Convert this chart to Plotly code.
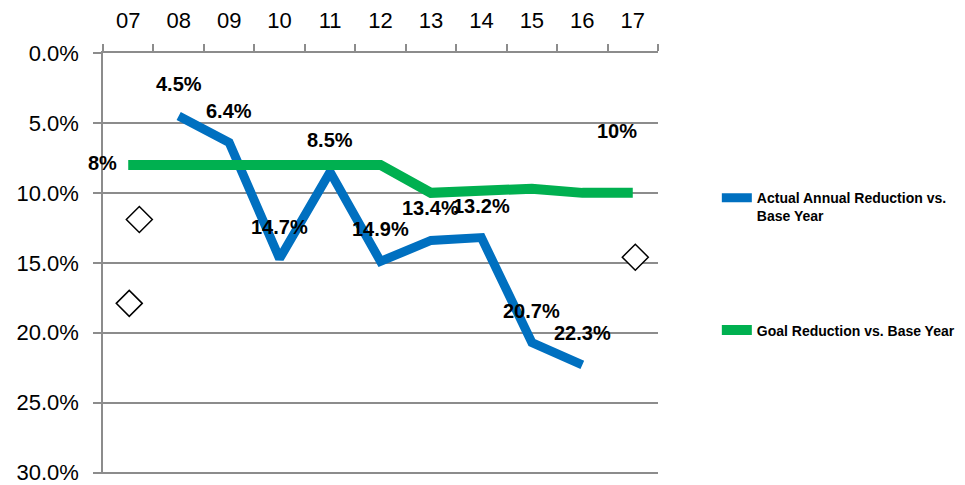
import plotly.graph_objects as go

categories = ["07", "08", "09", "10", "11", "12", "13", "14", "15", "16", "17"]
actual = [None, 4.5, 6.4, 14.7, 8.5, 14.9, 13.4, 13.2, 20.7, 22.3, None]
goal = [8, 8, 8, 8, 8, 8, 10, 9.9, 9.7, 10, 10]
diamond_x = [0.22, 0.02, 10.05]
diamond_y = [11.9, 17.9, 14.6]
y_ticks = [0, 5, 10, 15, 20, 25, 30]

xs = list(range(len(categories)))
GRAY = "#8c8c8c"
BLUE = "#0070C0"
GREEN = "#00B050"
FONT = "Liberation Sans"

fig = go.Figure()
fig.add_trace(go.Scatter(
    x=xs, y=actual, mode="lines", name="Actual Annual Reduction vs.<br>Base Year",
    line=dict(color=BLUE, width=9), legend="legend", connectgaps=False))
fig.add_trace(go.Scatter(
    x=xs, y=goal, mode="lines", name="Goal Reduction vs. Base Year",
    line=dict(color=GREEN, width=10), legend="legend2"))
fig.add_trace(go.Scatter(
    x=diamond_x, y=diamond_y, mode="markers", showlegend=False,
    marker=dict(symbol="diamond", size=20, color="white", line=dict(color="black", width=1.5))))

annotations = []
for x, v in zip(xs, actual):
    if v is None:
        continue
    annotations.append(dict(x=x, y=v, xref="x", yref="y", text=f"<b>{v:.1f}%</b>",
                            showarrow=False, yshift=32,
                            font=dict(family=FONT, size=20, color="black")))
annotations.append(dict(x=xs[0], y=goal[0], xref="x", yref="y", text=f"<b>{goal[0]:g}%</b>",
                        showarrow=False, xanchor="right", xshift=-9, yshift=2,
                        font=dict(family=FONT, size=20, color="black")))
annotations.append(dict(x=xs[-1], y=goal[-1], xref="x", yref="y", text=f"<b>{goal[-1]:g}%</b>",
                        showarrow=False, xshift=-16, yshift=62,
                        font=dict(family=FONT, size=20, color="black")))

fig.update_layout(
    width=965, height=485,
    margin=dict(l=103, r=307, t=53, b=10.6, autoexpand=False),
    paper_bgcolor="white", plot_bgcolor="white",
    font=dict(family=FONT, color="black"),
    annotations=annotations,
    xaxis=dict(
        range=[-0.5, len(categories) - 0.5], side="top", automargin=False,
        tickmode="array", tickvals=xs, ticktext=categories,
        ticks="", showgrid=False, zeroline=False,
        showline=True, linecolor=GRAY, linewidth=1.5,
        tickfont=dict(size=22, family=FONT, color="black"),
        ticklabelstandoff=14,
        minor=dict(tickmode="array", tickvals=[i - 0.5 for i in range(len(categories) + 1)],
                   ticks="outside", ticklen=7, tickcolor=GRAY, tickwidth=1.5, showgrid=False),
    ),
    yaxis=dict(
        range=[30.1, 0], tickmode="array", tickvals=y_ticks, automargin=False,
        ticktext=[f"{v:.1f}%" for v in y_ticks], ticklabeloverflow="allow",
        ticks="outside", ticklen=8, tickcolor=GRAY, tickwidth=1.5,
        showgrid=True, gridcolor=GRAY, gridwidth=1.5, zeroline=False,
        showline=True, linecolor=GRAY, linewidth=1.5,
        tickfont=dict(size=22, family=FONT, color="black"),
        ticklabelstandoff=10,
    ),
    legend=dict(x=1.106, y=0.634, xanchor="left", yanchor="middle",
                font=dict(size=14, family=FONT, color="black", weight="bold"),
                bgcolor="rgba(0,0,0,0)", valign="top"),
    legend2=dict(x=1.106, y=0.341, xanchor="left", yanchor="middle",
                 font=dict(size=14, family=FONT, color="black", weight="bold"),
                 bgcolor="rgba(0,0,0,0)"),
)

fig.write_html("out.html", post_script="document.body.style.margin='0';",
               config={"displayModeBar": False})
